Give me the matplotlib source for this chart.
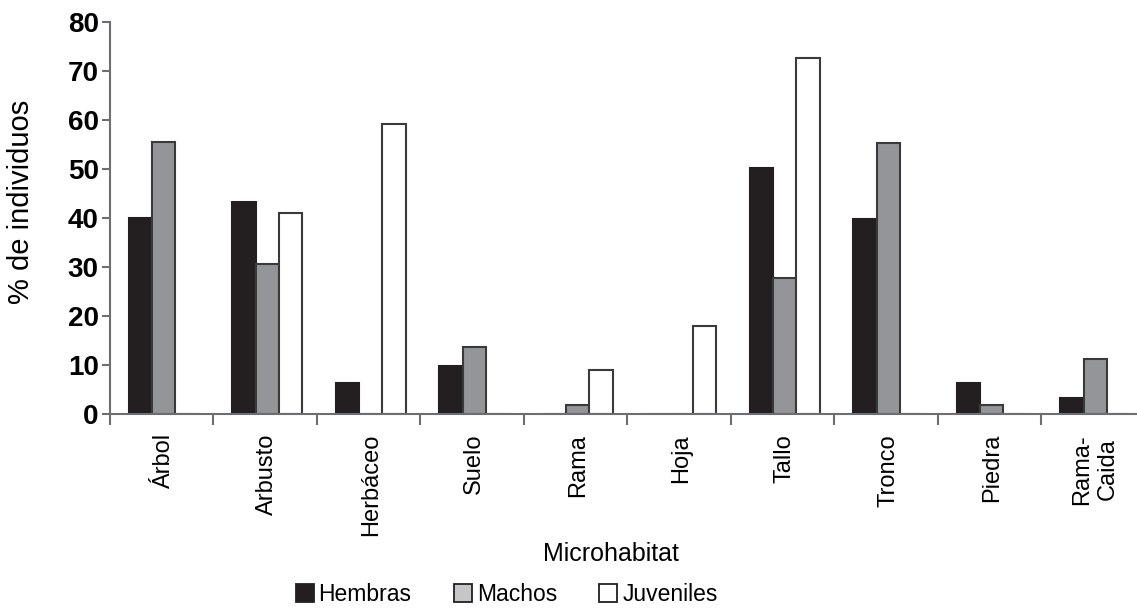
import numpy as np
import matplotlib.pyplot as plt
from matplotlib.lines import Line2D

plt.rcParams['font.family'] = ['Liberation Sans', 'DejaVu Sans']

categorias = ['Árbol', 'Arbusto', 'Herbáceo', 'Suelo', 'Rama', 'Hoja',
              'Tallo', 'Tronco', 'Piedra', 'Rama-\nCaida']
hembras = [40.0, 43.3, 6.5, 9.8, 0, 0, 50.2, 39.9, 6.5, 3.4]
machos = [55.4, 30.6, 0, 13.8, 2.0, 0, 27.7, 55.3, 2.0, 11.2]
juveniles = [0, 41.0, 59.2, 0, 9.1, 18.1, 72.6, 0, 0, 0]

series = ['Hembras', 'Machos', 'Juveniles']
colores = ['#231f20', '#939598', '#ffffff']
bordes = ['#231f20', '#3a3a3a', '#3a3a3a']
leyenda_colores = ['#231f20', '#c4c6c8', '#ffffff']

fig = plt.figure(figsize=(11.37, 6.08), dpi=100)
ax = fig.add_axes([0.0967, 0.3183, 0.9103, 0.6461])

x = np.arange(len(categorias)) + 0.52
w = 0.225
for k, vals in enumerate([hembras, machos, juveniles]):
    ax.bar(x + (k - 1) * w, vals, w, color=colores[k], edgecolor=bordes[k],
           linewidth=1.5, label=series[k], zorder=2)

ax.set_xlim(0, 10)
ax.set_ylim(0, 80)
ax.set_yticks(np.arange(0, 81, 10))
ax.tick_params(axis='y', labelsize=20, length=6, width=1.5, color='#6d6e71', pad=2)
for t in ax.get_yticklabels():
    t.set_fontweight('bold')

ax.set_xticks(x)
ax.set_xticklabels(categorias, rotation=90, fontsize=17, multialignment='center')
ax.tick_params(axis='x', which='major', length=0, pad=14)
ax.set_xticks(np.arange(0, 10), minor=True)
ax.tick_params(axis='x', which='minor', length=8, width=1.5, color='#6d6e71')

for s in ['top', 'right']:
    ax.spines[s].set_visible(False)
for s in ['left', 'bottom']:
    ax.spines[s].set_color('#6d6e71')
    ax.spines[s].set_linewidth(1.5)

ax.set_ylabel('% de individuos', fontsize=21)
ax.yaxis.set_label_coords(-0.072, 0.54)
ax.set_xlabel('Microhabitat', fontsize=18)
ax.xaxis.set_label_coords(0.484, -0.325)

handles = [Line2D([], [], marker='s', linestyle='none', markersize=13,
                  markerfacecolor=leyenda_colores[k], markeredgecolor='#231f20',
                  markeredgewidth=1.3) for k in range(3)]
fig.legend(handles, series, loc='center', bbox_to_anchor=(0.446, 0.022), ncol=3,
           frameon=False, fontsize=16.5, handlelength=0.7, handletextpad=0.25,
           columnspacing=1.9, borderpad=0)

fig.savefig('out.png', dpi=100)
